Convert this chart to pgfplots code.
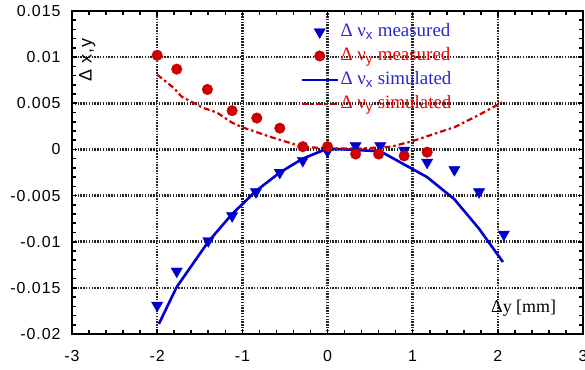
\documentclass[border=0pt]{standalone}
\usepackage{pgfplots}
\pgfplotsset{compat=1.18}
\usepackage{fontspec}
\setmainfont{Liberation Serif}
\setsansfont{Liberation Sans}
\newfontfamily\arialf[LetterSpace=6]{Liberation Sans}
\definecolor{myblue}{RGB}{0,0,204}
\definecolor{myred}{RGB}{204,0,0}
\definecolor{txtblue}{RGB}{40,40,210}
\definecolor{txtred}{RGB}{240,0,0}
\begin{document}
\begin{tikzpicture}
\begin{axis}[
  name=ax,
  scale only axis,
  width=511bp, height=323bp,
  xmin=-3, xmax=3, ymin=-0.02, ymax=0.015,
  axis line style={line width=2.2bp},
  xtick={-3,-2,-1,0,1,2,3},
  xticklabels={-3,-2,-1,0,1,2,3},
  ytick={-0.02,-0.015,-0.01,-0.005,0,0.005,0.01,0.015},
  yticklabels={-0.02,-0.015,-0.01,-0.005,0,0.005,0.01,0.015},
  scaled y ticks=false,
  minor tick num=4,
  tick align=inside,
  major tick length=5bp, minor tick length=4bp,
  every tick/.style={black, line width=1.6bp},
  tick label style={font=\arialf\fontsize{16}{18}\selectfont},
  xticklabel style={yshift=-13bp},
  yticklabel style={xshift=-8bp},
  grid=major,
  major grid style={black!85, line width=2.6bp, dash pattern=on 1.5bp off 1.3bp},
  legend style={draw=none, fill=none, inner sep=0pt, outer sep=0pt,
    at={(axis description cs:0.447,0.966)}, anchor=north west,
    row sep=4bp, font=\fontsize{19}{21}\selectfont,
    nodes={inner sep=1.5bp, text height=13bp, text depth=4bp}},
  legend cell align=left,
  legend image code/.code={\draw[mark repeat=2,mark phase=2,#1] plot coordinates {(0bp,0bp) (18bp,0bp) (36bp,0bp)};},
]
\addplot[only marks, mark=triangle*, mark size=6.5bp, mark options={rotate=180, fill=myblue, draw=myblue}, color=myblue] coordinates {
(-2,-0.0169) (-1.77,-0.0132) (-1.40,-0.0099) (-1.12,-0.0072) (-0.84,-0.0046) (-0.56,-0.0025) (-0.29,-0.0012)
(0,-0.0002) (0.33,0.0004) (0.62,0.0004) (0.90,-0.0001) (1.17,-0.0014) (1.49,-0.0022) (1.78,-0.0046) (2.07,-0.0092)
};
\addlegendentry{\textcolor{txtblue}{Δ ν\textsubscript{\sffamily x} measured}}
\addplot[only marks, mark=*, mark size=5.3bp, color=myred, mark options={fill=myred, draw=myred}] coordinates {
(-2,0.0102) (-1.77,0.0087) (-1.41,0.0065) (-1.12,0.0042) (-0.83,0.0034) (-0.56,0.0023) (-0.29,0.0003)
(0,0.0003) (0.33,-0.0005) (0.60,-0.0005) (0.90,-0.0007) (1.17,-0.0003)
};
\addlegendentry{\textcolor{txtred}{Δ ν\textsubscript{\sffamily y} measured}}
\addplot[myblue, line width=2.6bp, no marks] coordinates {
(-1.98,-0.0189) (-1.77,-0.0149) (-1.40,-0.0100) (-1.12,-0.0070) (-0.84,-0.0045) (-0.56,-0.0025) (-0.29,-0.0010)
(0,0.0001) (0.62,-0.0002) (1.17,-0.0030) (1.49,-0.0054) (1.78,-0.0086) (2.06,-0.0122)
};
\addlegendentry{\textcolor{txtblue}{Δ ν\textsubscript{\sffamily x} simulated}}
\addplot[myred, line width=2.2bp, dash pattern=on 6bp off 3bp on 2.5bp off 3bp, no marks] coordinates {
(-2,0.0081) (-1.81,0.0067) (-1.71,0.0057) (-1.46,0.0045) (-1.30,0.0040) (-1.12,0.0029) (-1.0,0.0024) (-0.65,0.0013)
(-0.3,0.0003) (0,0.0001) (0.4,0.0001) (0.75,0.0003) (1.0,0.0009) (1.29,0.0018) (1.49,0.0024) (1.75,0.0036) (2.05,0.0051)
};
\addlegendentry{\textcolor{txtred}{Δ ν\textsubscript{\sffamily y} simulated}}
\node[rotate=90, anchor=west, font=\arialf\fontsize{18}{20}\selectfont] at (axis description cs:0.03,0.77) {Δ x,y};
\node[anchor=west, font=\fontsize{18}{20}\selectfont, inner sep=0pt] at (axis description cs:0.82,0.08) {Δy [mm]};
\end{axis}
\pgfresetboundingbox
\path[use as bounding box] ([xshift=-72bp,yshift=-36bp]ax.south west) rectangle ([xshift=2bp,yshift=11bp]ax.north east);
\end{tikzpicture}
\end{document}
